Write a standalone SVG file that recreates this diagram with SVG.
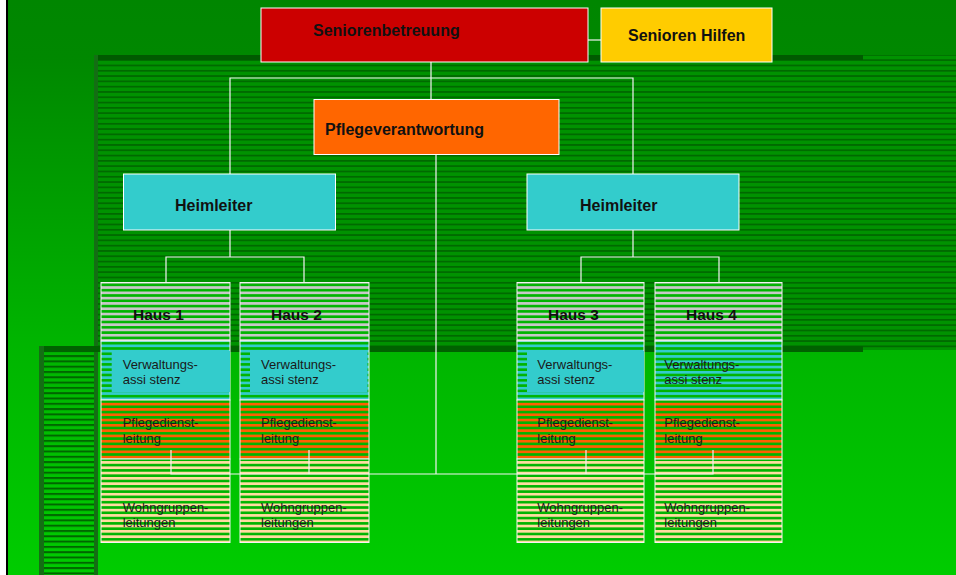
<svg xmlns="http://www.w3.org/2000/svg" width="956" height="575" viewBox="0 0 956 575">
<style>
.box{stroke:#ffffff;stroke-width:1}
.t{font-family:"Liberation Sans",Arial,sans-serif;font-weight:bold;font-size:16px;fill:#111}
.h{font-family:"Liberation Sans",Arial,sans-serif;font-weight:bold;font-size:15.5px;fill:#111}
.s{font-family:"Liberation Sans",Arial,sans-serif;font-size:13px;fill:#1a1a1a}
.c{stroke:#f4f4f4;stroke-width:1.2;fill:none}
.sec{stroke:#f4f4f4;stroke-width:1}
</style>
<defs>
<linearGradient id="bg" x1="0" y1="0" x2="0" y2="1">
<stop offset="0" stop-color="#008600"/>
<stop offset="0.1" stop-color="#008800"/>
<stop offset="0.6" stop-color="#00b500"/>
<stop offset="1" stop-color="#00cc00"/>
</linearGradient>
<pattern id="stUp" patternUnits="userSpaceOnUse" x="0" y="1" width="10" height="5.3">
<rect width="10" height="5.3" fill="#009200"/>
<rect width="10" height="1.7" fill="#006800"/>
</pattern>
<pattern id="stLow" patternUnits="userSpaceOnUse" x="0" y="0" width="10" height="5.3">
<rect width="10" height="2" fill="#006600"/>
</pattern>
<pattern id="pGray" patternUnits="userSpaceOnUse" x="0" y="0" width="10" height="5.3">
<rect width="10" height="5.3" fill="#00b400"/>
<rect width="10" height="2.7" fill="#c8c8c8"/>
</pattern>
<pattern id="pCyan" patternUnits="userSpaceOnUse" x="0" y="0" width="10" height="5.3">
<rect width="10" height="5.3" fill="#00b400"/>
<rect width="10" height="2.7" fill="#33cccc"/>
</pattern>
<pattern id="pOrange" patternUnits="userSpaceOnUse" x="0" y="0" width="10" height="5.3">
<rect width="10" height="5.3" fill="#00b400"/>
<rect width="10" height="2.7" fill="#ff6000"/>
</pattern>
<pattern id="pWheat" patternUnits="userSpaceOnUse" x="0" y="0" width="10" height="5.3">
<rect width="10" height="5.3" fill="#00b400"/>
<rect width="10" height="2.7" fill="#ffdca0"/>
</pattern>
</defs>

<g id="background">
<rect width="956" height="575" fill="url(#bg)"/>
<rect x="98" y="55" width="858" height="295" fill="url(#stUp)"/>
<rect x="44" y="352" width="50" height="223" fill="url(#stLow)"/>
<rect x="94" y="55" width="769" height="5" fill="#005a00"/>
<rect x="94" y="55" width="4" height="520" fill="#146e14"/>
<rect x="39" y="346" width="824" height="6" fill="#006200"/>
<rect x="39" y="346" width="5" height="229" fill="#146e14"/>
<rect x="0" y="0" width="6" height="575" fill="#ffffff"/>
<rect x="6" y="0" width="2" height="575" fill="#000000"/>
</g>

<g id="connectors">
<path class="c" d="M431 62 V99.5"/>
<path class="c" d="M230 174 V78 H633 V174"/>
<path class="c" d="M588 40 H601"/>
<path class="c" d="M436 155 V474"/>
<path class="c" d="M230 230 V257"/>
<path class="c" d="M166 282.5 V257 H304 V282.5"/>
<path class="c" d="M633 230 V257"/>
<path class="c" d="M581 282.5 V257 H719 V282.5"/>
</g>

<g id="seniorenbetreuung">
<rect class="box" x="261" y="8" width="327" height="54" fill="#cc0000"/>
<text class="t" x="313" y="36">Seniorenbetreuung</text>
</g>
<g id="senioren-hilfen">
<rect class="box" x="601" y="8" width="171" height="54" fill="#ffcc00"/>
<text class="t" x="628" y="41">Senioren Hilfen</text>
</g>
<g id="pflegeverantwortung">
<rect class="box" x="314" y="99.5" width="245" height="55" fill="#ff6600"/>
<text class="t" x="325" y="135">Pflegeverantwortung</text>
</g>
<g id="heimleiter-1">
<rect class="box" x="123.5" y="174" width="212" height="56" fill="#33cccc"/>
<text class="t" x="175" y="211">Heimleiter</text>
</g>
<g id="heimleiter-2">
<rect class="box" x="527" y="174" width="212" height="56" fill="#33cccc"/>
<text class="t" x="580" y="211">Heimleiter</text>
</g>

<g id="haus-1">
<rect class="sec" x="101" y="282.5" width="129" height="58.5" fill="url(#pGray)"/>
<rect class="sec" x="101" y="341" width="129" height="59" fill="url(#pCyan)"/>
<rect class="sec" x="101" y="400" width="129" height="59" fill="url(#pOrange)"/>
<rect class="sec" x="101" y="459" width="129" height="83.5" fill="url(#pWheat)"/>
<rect x="111.7" y="351" width="118.3" height="41" fill="#33cccc"/>
<text class="h" x="133" y="320">Haus 1</text>
<text class="s" x="122.7" y="369">Verwaltungs-</text>
<text class="s" x="122.7" y="384">assi stenz</text>
<text class="s" x="122.7" y="427">Pflegedienst-</text>
<text class="s" x="122.7" y="442.5">leitung</text>
<text class="s" x="122.7" y="511.5">Wohngruppen-</text>
<text class="s" x="122.7" y="527">leitungen</text>
</g>
<g id="haus-2">
<rect class="sec" x="240" y="282.5" width="129" height="58.5" fill="url(#pGray)"/>
<rect class="sec" x="240" y="341" width="129" height="59" fill="url(#pCyan)"/>
<rect class="sec" x="240" y="400" width="129" height="59" fill="url(#pOrange)"/>
<rect class="sec" x="240" y="459" width="129" height="83.5" fill="url(#pWheat)"/>
<rect x="250" y="351" width="117.5" height="41" fill="#33cccc"/>
<text class="h" x="271" y="320">Haus 2</text>
<text class="s" x="261" y="369">Verwaltungs-</text>
<text class="s" x="261" y="384">assi stenz</text>
<text class="s" x="261" y="427">Pflegedienst-</text>
<text class="s" x="261" y="442.5">leitung</text>
<text class="s" x="261" y="511.5">Wohngruppen-</text>
<text class="s" x="261" y="527">leitungen</text>
</g>
<g id="haus-3">
<rect class="sec" x="517" y="282.5" width="127" height="58.5" fill="url(#pGray)"/>
<rect class="sec" x="517" y="341" width="127" height="59" fill="url(#pCyan)"/>
<rect class="sec" x="517" y="400" width="127" height="59" fill="url(#pOrange)"/>
<rect class="sec" x="517" y="459" width="127" height="83.5" fill="url(#pWheat)"/>
<rect x="527" y="351" width="117" height="41" fill="#33cccc"/>
<text class="h" x="548" y="320">Haus 3</text>
<text class="s" x="537.3" y="369">Verwaltungs-</text>
<text class="s" x="537.3" y="384">assi stenz</text>
<text class="s" x="537.3" y="427">Pflegedienst-</text>
<text class="s" x="537.3" y="442.5">leitung</text>
<text class="s" x="537.3" y="511.5">Wohngruppen-</text>
<text class="s" x="537.3" y="527">leitungen</text>
</g>
<g id="haus-4">
<rect class="sec" x="655" y="282.5" width="127" height="58.5" fill="url(#pGray)"/>
<rect class="sec" x="655" y="341" width="127" height="59" fill="url(#pCyan)"/>
<rect class="sec" x="655" y="400" width="127" height="59" fill="url(#pOrange)"/>
<rect class="sec" x="655" y="459" width="127" height="83.5" fill="url(#pWheat)"/>
<text class="h" x="686" y="320">Haus 4</text>
<text class="s" x="664.3" y="369">Verwaltungs-</text>
<text class="s" x="664.3" y="384">assi stenz</text>
<text class="s" x="664.3" y="427">Pflegedienst-</text>
<text class="s" x="664.3" y="442.5">leitung</text>
<text class="s" x="664.3" y="511.5">Wohngruppen-</text>
<text class="s" x="664.3" y="527">leitungen</text>
</g>

<g id="connectors-lower">
<path class="c" d="M171 450 V474 H713 V450"/>
<path class="c" d="M309 450 V474"/>
<path class="c" d="M586 450 V474"/>
</g>
</svg>
